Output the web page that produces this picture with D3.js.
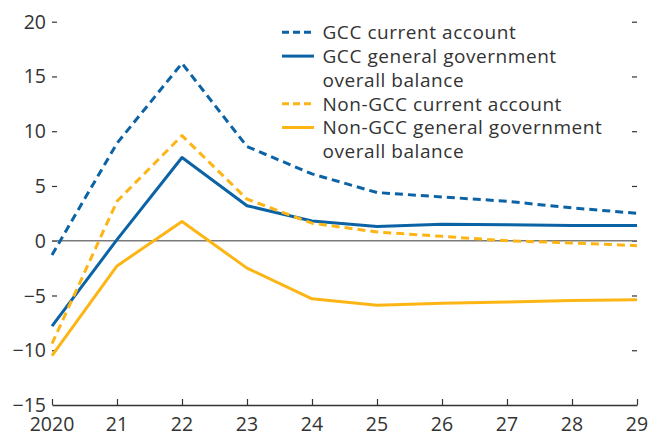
<!DOCTYPE html>
<html>
<head>
<meta charset="utf-8">
<script src="https://cdn.jsdelivr.net/npm/d3@7"></script>
<style>
  html, body { margin: 0; padding: 0; background: #fff; }
  svg { display: block; }
  text { font-family: "Open Sans", sans-serif; fill: #333; }
</style>
</head>
<body>
<svg id="chart" width="648" height="435"></svg>
<script>
const years = [2020, 2021, 2022, 2023, 2024, 2025, 2026, 2027, 2028, 2029];
const gccCurrentAccount = [-1.3, 8.9, 16.2, 8.6, 6.1, 4.4, 4.0, 3.6, 3.0, 2.5];
const gccFiscalBalance = [-7.8, 0.1, 7.6, 3.2, 1.8, 1.3, 1.5, 1.45, 1.4, 1.4];
const nonGccCurrentAccount = [-9.4, 3.6, 9.6, 3.8, 1.6, 0.8, 0.4, 0.0, -0.2, -0.45];
const nonGccFiscalBalance = [-10.5, -2.3, 1.75, -2.5, -5.3, -5.9, -5.7, -5.6, -5.45, -5.4];
const yTicks = [-15, -10, -5, 0, 5, 10, 15, 20];
const seriesNames = [
  ["GCC current account"],
  ["GCC general government", "overall balance"],
  ["Non-GCC current account"],
  ["Non-GCC general government", "overall balance"]
];

(function () {
const blue = "#0b63a5", orange = "#fdb515";
const series = [
  { values: gccCurrentAccount, color: blue, dash: "8,5", label: seriesNames[0] },
  { values: gccFiscalBalance, color: blue, dash: null, label: seriesNames[1] },
  { values: nonGccCurrentAccount, color: orange, dash: "8,5", label: seriesNames[2] },
  { values: nonGccFiscalBalance, color: orange, dash: null, label: seriesNames[3] }
];

const svg = d3.select("#chart");
const mLeft = 52, mRight = 637, mTop = 21.7, mBottom = 405;
const x = d3.scaleLinear().domain([2020, 2029]).range([mLeft, mRight]);
const y = d3.scaleLinear().domain([-15, 20]).range([mBottom, mTop]);
const fontSize = 19.5;

// left y-axis
const yAxisL = d3.axisRight(y).tickValues(yTicks.filter(d => d > -15)).tickSize(5).tickFormat("");
svg.append("g").attr("transform", `translate(${mLeft},0)`).call(yAxisL)
  .call(g => g.select(".domain").remove())
  .call(g => g.selectAll("line").attr("stroke", "#333").attr("stroke-width", 1.2));
svg.append("g").selectAll("text").data(yTicks).join("text")
  .attr("x", 46).attr("y", d => y(d)).attr("dy", "0.36em")
  .attr("text-anchor", "end").attr("font-size", fontSize)
  .text(d => d < 0 ? "\u2212" + Math.abs(d) : d);

// right y-axis
const yAxisR = d3.axisLeft(y).tickValues(yTicks.filter(d => d > -15)).tickSize(5).tickFormat("");
svg.append("g").attr("transform", `translate(${mRight},0)`).call(yAxisR)
  .call(g => g.select(".domain").remove())
  .call(g => g.selectAll("line").attr("stroke", "#333").attr("stroke-width", 1.2));

// zero line
svg.append("line").attr("x1", mLeft).attr("x2", mRight).attr("y1", y(0)).attr("y2", y(0))
  .attr("stroke", "#7a7a7a").attr("stroke-width", 1.5);

// x-axis
const xAxis = d3.axisTop(x).tickValues(years).tickSize(6).tickSizeOuter(0).tickFormat("");
svg.append("g").attr("transform", `translate(0,${mBottom})`).call(xAxis)
  .call(g => g.select(".domain").attr("stroke", "#333").attr("stroke-width", 1.5))
  .call(g => g.selectAll("line").attr("stroke", "#333").attr("stroke-width", 1.2));
svg.append("g").selectAll("text").data(years).join("text")
  .attr("x", d => x(d)).attr("y", 431)
  .attr("text-anchor", "middle").attr("font-size", fontSize)
  .text(d => d === 2020 ? "2020" : String(d).slice(2));

// lines
const line = d3.line().x((d, i) => x(years[i])).y(d => y(d));
svg.append("g").selectAll("path").data(series).join("path")
  .attr("d", d => line(d.values))
  .attr("fill", "none").attr("stroke", d => d.color)
  .attr("stroke-width", 3).attr("stroke-linejoin", "round")
  .attr("stroke-dasharray", d => d.dash);

// legend
const lg = svg.append("g");
let rowY = 32.3;
const rowH = 23.8;
series.forEach(s => {
  lg.append("line").attr("x1", 282).attr("x2", 314).attr("y1", rowY).attr("y2", rowY)
    .attr("stroke", s.color).attr("stroke-width", 3).attr("stroke-dasharray", s.dash ? "7,4" : null);
  s.label.forEach((t, j) => {
    lg.append("text").attr("x", 322.5).attr("y", rowY + j * rowH).attr("dy", "0.36em")
      .attr("font-size", 19).attr("letter-spacing", 0.55).text(t);
  });
  rowY += rowH * s.label.length;
});
})();
</script>
</body>
</html>
